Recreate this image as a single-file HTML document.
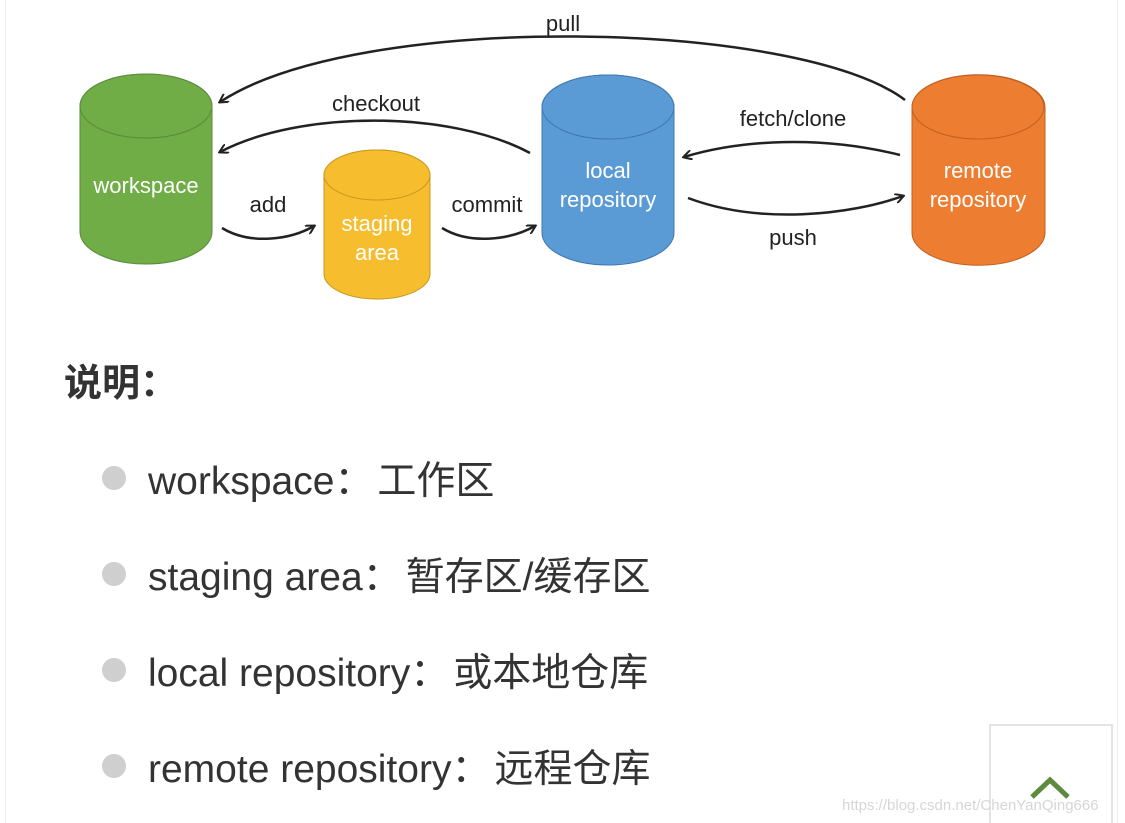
<!DOCTYPE html>
<html><head><meta charset="utf-8"><style>
html,body{margin:0;padding:0;background:#fff;width:1125px;height:823px;overflow:hidden;position:relative;font-family:"Liberation Sans","Noto Sans CJK SC",sans-serif}
.t{position:absolute;color:#333;white-space:nowrap}
.b{position:absolute;left:102px;width:24px;height:24px;border-radius:50%;background:#cfcfcf}
.c{margin-left:4px}
</style></head><body>
<div style="position:absolute;left:5px;top:0;width:1px;height:823px;background:#eee"></div>
<div style="position:absolute;left:1117px;top:0;width:1px;height:823px;background:#eee"></div>
<svg width="1125" height="823" style="position:absolute;left:0;top:0" font-family="Liberation Sans, sans-serif">
<defs><marker id="a" markerWidth="10" markerHeight="10" refX="8" refY="5" orient="auto" markerUnits="userSpaceOnUse"><path d="M0,0 L9,5 L0,10" fill="none" stroke="#222" stroke-width="2"/></marker></defs>
<g fill="none" stroke="#222" stroke-width="2.5" marker-end="url(#a)">
<path d="M905,100 C800,20 360,10 220,102"/>
<path d="M530,153 C450,110 300,110 220,152"/>
<path d="M222,228 C250,245 290,240 314,226"/>
<path d="M442,228 C470,245 510,240 535,226"/>
<path d="M900,155 C820,135 740,140 684,157"/>
<path d="M688,198 C760,225 850,215 903,196"/>
</g>
<g stroke="#5a8a3a" stroke-width="1"><path d="M80,106 V232 A66,32 0 0 0 212,232 V106 A66,32 0 0 0 80,106Z" fill="#70ad47"/><ellipse cx="146" cy="106" rx="66" ry="32" fill="#70ad47"/></g>
<g stroke="#c9971e" stroke-width="1"><path d="M324,175 V274 A53,25 0 0 0 430,274 V175 A53,25 0 0 0 324,175Z" fill="#f6bd2f"/><ellipse cx="377" cy="175" rx="53" ry="25" fill="#f6bd2f"/></g>
<g stroke="#3f77b0" stroke-width="1"><path d="M542,107 V233 A66,32 0 0 0 674,233 V107 A66,32 0 0 0 542,107Z" fill="#5b9bd5"/><ellipse cx="608" cy="107" rx="66" ry="32" fill="#5b9bd5"/></g>
<g stroke="#c05f20" stroke-width="1"><path d="M912,107 V233 A66,32 0 0 0 1045,233 V107 A66,32 0 0 0 912,107Z" fill="#ed7d31"/><ellipse cx="978" cy="107" rx="66" ry="32" fill="#ed7d31"/></g>
<g fill="#fff" font-size="22" text-anchor="middle">
<text x="146" y="193">workspace</text>
<text x="377" y="231">staging</text><text x="377" y="260">area</text>
<text x="608" y="178">local</text><text x="608" y="207">repository</text>
<text x="978" y="178">remote</text><text x="978" y="207">repository</text>
</g>
<g fill="#222" font-size="22" text-anchor="middle">
<text x="563" y="31">pull</text>
<text x="376" y="111">checkout</text>
<text x="268" y="212">add</text>
<text x="487" y="212">commit</text>
<text x="793" y="126">fetch/clone</text>
<text x="793" y="245">push</text>
</g>
<rect x="990" y="725" width="122" height="110" fill="#fff" stroke="#e4e4e4" stroke-width="2"/>
<path d="M1032,797 L1050,780 L1068,797" fill="none" stroke="#5e8a3e" stroke-width="5"/>
<text x="842" y="810" font-size="15" fill="#d6d6d6">https://blog.csdn.net/ChenYanQing666</text>
</svg>
<div class="t" style="left:64px;top:352px;font-size:38px;font-weight:bold">说明：</div>
<div class="b" style="top:466px"></div><div class="t" style="left:148px;top:450px;font-size:39px">workspace：<span class="c">工作区</span></div>
<div class="b" style="top:562px"></div><div class="t" style="left:148px;top:546px;font-size:39px">staging area：<span class="c">暂存区/缓存区</span></div>
<div class="b" style="top:658px"></div><div class="t" style="left:148px;top:642px;font-size:39px">local repository：<span class="c">或本地仓库</span></div>
<div class="b" style="top:754px"></div><div class="t" style="left:148px;top:738px;font-size:39px">remote repository：<span class="c">远程仓库</span></div>
</body></html>
